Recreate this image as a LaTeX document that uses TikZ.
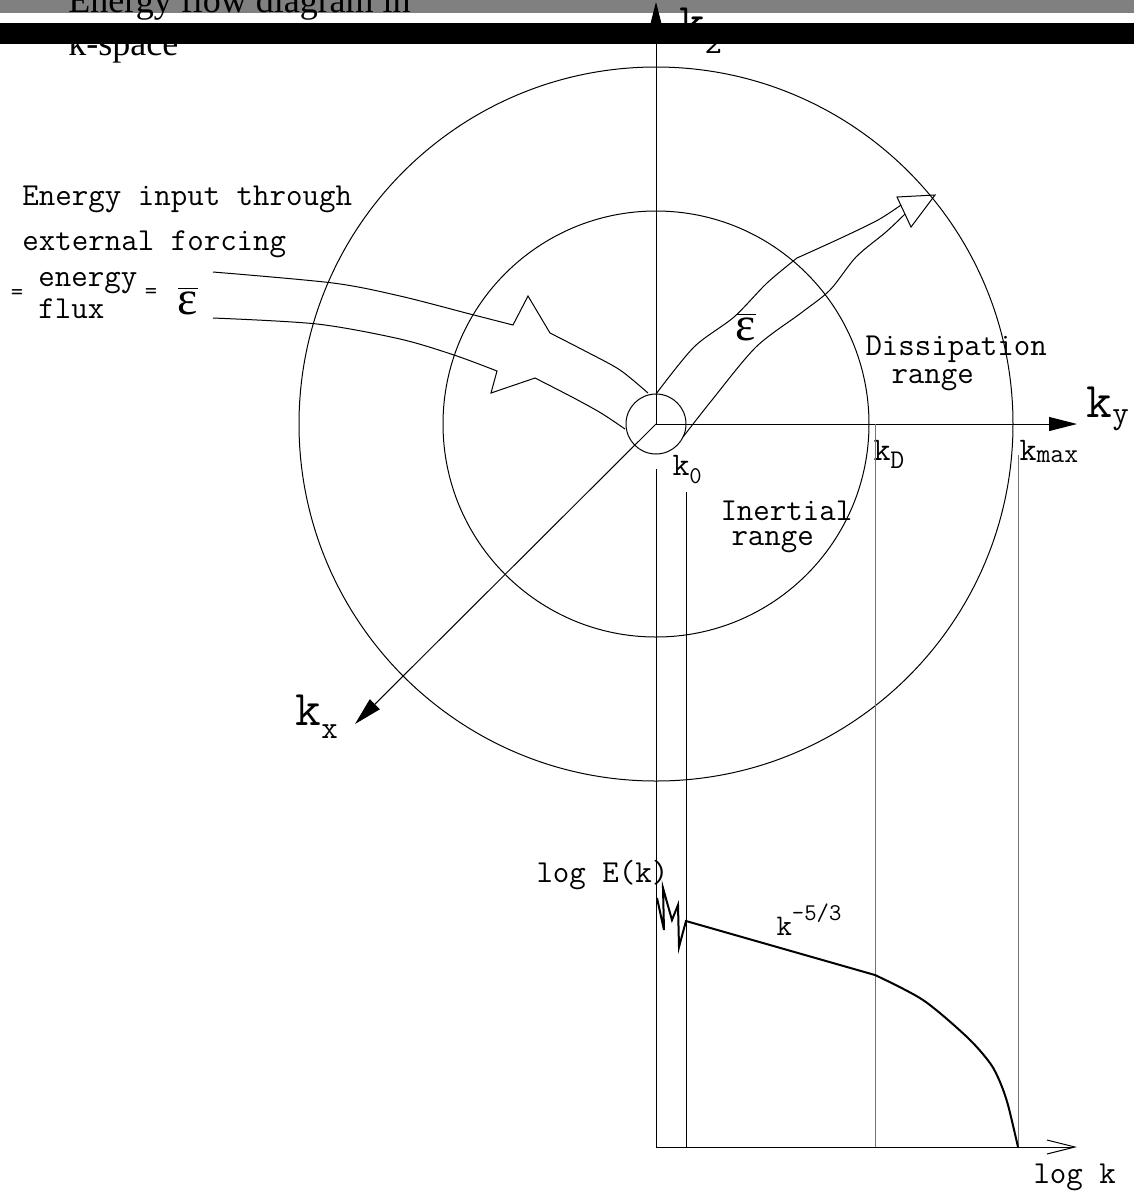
\documentclass[tikz,border=0pt]{standalone}
\usepackage{fontspec}
\setmainfont{Liberation Serif}
\usetikzlibrary{arrows.meta}

\begin{document}
\begin{tikzpicture}[x=0.5pt,y=-0.5pt,>={Triangle[length=14pt,width=7pt]},line width=0.5pt,
        lbl/.style={font=\fontsize{16}{16}\ttfamily,inner sep=0pt,anchor=base west},
        rangelbl/.style={inner sep=0pt,anchor=north west,align=left},
        klbl/.style={font=\fontsize{25}{25}\ttfamily,inner sep=0pt,anchor=base west},
        ksmall/.style={font=\fontsize{16.5}{16.5}\ttfamily,inner sep=0pt,anchor=base west},
        ttl/.style={font=\fontsize{18}{18}\rmfamily,inner sep=0pt,anchor=base west},
        eqsign/.style={font=\fontsize{12}{12}\ttfamily,inner sep=0pt},
        epsbar/.style={font=\fontsize{24}{24}\rmfamily,inner sep=0pt},
        kline/.style={draw=black!55}]
        \useasboundingbox (0,0) rectangle (1134,1191);
        \fill[white] (0,0) rectangle (1134,1191);
        % header
        \fill[black!50] (0,0) rectangle (1134,13);
        \node[ttl] (title1) at (68,12) {Energy flow diagram in};
        \node[ttl] (title2) at (68,55) {k-space};
        \coordinate (O) at (656,424);
        \coordinate (ztip) at (656,2);
        \draw[->] (O) -- (ztip);
        \node[klbl] (kz) at (679,38) {k\raisebox{-7.5pt}{\fontsize{16}{16}\selectfont z}};
        \fill[black] (0,23) rectangle (1134,44);
        % spheres in k-space
        \draw (O) circle[radius=15pt];
        \draw (O) circle[radius=106.5pt];
        \draw (O) circle[radius=178.5pt];
        \coordinate (ytip) at (1077,424);
        \coordinate (xtip) at (355,724);
        \draw[->] (O) -- (ytip);
        \draw[->] (O) -- (xtip);
        \node[klbl] (ky) at (1086,417) {k\raisebox{-3pt}{\fontsize{16}{16}\selectfont y}};
        \node[klbl] (kx) at (295,725) {k\raisebox{-6.5pt}{\fontsize{16}{16}\selectfont x}};
        % energy input
        \node[lbl] (input1) at (22,205) {Energy input through};
        \node[lbl] (input2) at (22,250) {external forcing};
        \node[eqsign] (eq1) at (17,295) {=};
        \node[lbl] (energy) at (38,286) {energy};
        \node[lbl] (flux) at (38,318) {flux};
        \node[eqsign] (eq2) at (151,294) {=};
        \node[epsbar] (epsin) at (188,301) {$\overline{\mbox{ε}}$};
        \draw plot[smooth] coordinates {(213,272) (333,283) (400,296) (470,314) (513,325)}
            -- (528,296) -- (550,333)
            -- plot[smooth] coordinates {(550,333) (587,352) (620,370) (648,393)};
        \draw plot[smooth] coordinates {(213,318) (317,324) (400,339) (454,355) (497,371)}
            -- (491,393) -- (535,378)
            -- plot[smooth] coordinates {(535,378) (572,397) (601,413) (625,429)};
        % energy flux outwards
        \draw plot[smooth] coordinates {(656,394) (694,347) (734,317) (767,283) (797,258)}
            -- plot[smooth] coordinates {(797,258) (841,238) (878,220) (901,205)};
        \draw plot[smooth] coordinates {(683,437) (712,400) (756,347) (801,313) (830,290) (856,257) (886,232) (905,214)};
        \draw (897,197) -- (935,195) -- (911,227) -- cycle;
        \node[epsbar] (epsout) at (746,327) {$\overline{\mbox{ε}}$};
        \node[rangelbl,font=\fontsize{16}{14}\ttfamily] (dissip) at (865,335) {Dissipation\\\hspace*{13pt}range};
        \node[rangelbl,font=\fontsize{16}{12.5}\ttfamily] (inert) at (720,500) {Inertial\\\hspace*{5.5pt}range};
        \node[ksmall] (k0) at (672,475) {k\raisebox{-4pt}{\fontsize{12}{12}\selectfont 0}};
        \node[ksmall] (kD) at (873,460) {k\raisebox{-4pt}{\fontsize{13.5}{13.5}\selectfont D}};
        \node[ksmall] (kmax) at (1019,460) {k\raisebox{-1pt}{\fontsize{13.5}{13.5}\selectfont max}};
        % spectrum
        \coordinate (Etop) at (656,469);
        \coordinate (Eorig) at (656,1147);
        \coordinate (ktip) at (1077,1147);
        \draw (Etop) -- (Eorig);
        \draw[-{Straight Barb[length=14pt,width=7pt]}] (Eorig) -- (ktip);
        \draw (686,492) -- (686,1147);
        \draw[kline] (875,424) -- (875,1147);
        \draw[kline] (1018,455) -- (1018,1147);
        \draw[line width=1pt] (657,898) -- (664,930) -- (663,888) -- (672,920) -- (678,905) -- (679,947) -- (686,921) -- (875,975)
            -- plot[smooth] coordinates {(875,975) (923,1000) (967,1037) (990,1063) (1000,1082) (1008,1105) (1018,1147)};
        \node[lbl] (logE) at (536,882) {log E(k)};
        \node[lbl,font=\fontsize{15}{15}\ttfamily] (slope) at (776,935) {k\raisebox{7.5pt}{\fontsize{12}{12}\selectfont -5/3}};
        \node[lbl] (logk) at (1033,1183) {log k};
    \end{tikzpicture}
\end{document}
